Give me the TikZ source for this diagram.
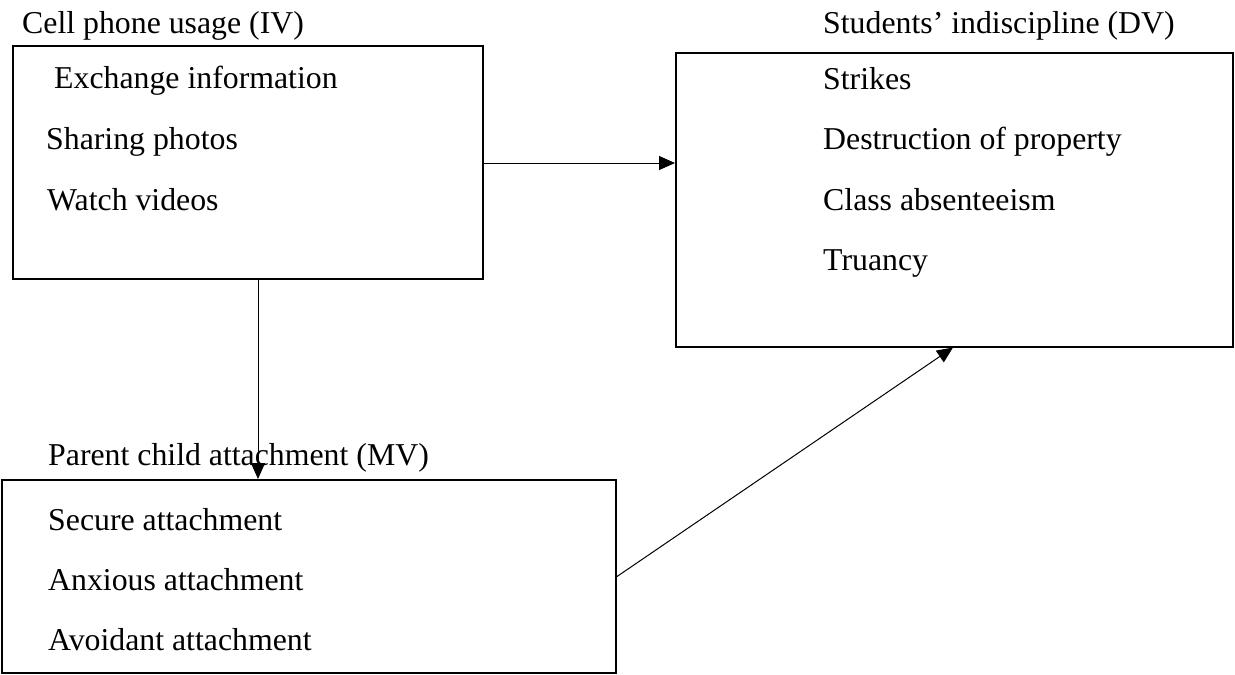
\documentclass[tikz,border=0pt]{standalone}
\usepackage{fontspec}
\setmainfont{Liberation Serif}
\usetikzlibrary{arrows.meta}
\tikzset{
  box/.style={draw=black, line width=2pt, rectangle, inner sep=0pt},
  txt/.style={anchor=base west, inner sep=0pt, font=\fontsize{31.8}{38}\selectfont},
  arr/.style={draw=black, line width=1pt, -{Triangle[length=16pt,width=14pt]}}
}
\begin{document}
\begin{tikzpicture}[x=1pt,y=-1pt]
\useasboundingbox (0,0) rectangle (1235,675);
% boxes
\node[box, minimum width=470pt, minimum height=233pt] (b1) at (248,162.5) {};
\node[box, minimum width=557pt, minimum height=294pt] (b2) at (954.5,199.5) {};
\node[box, minimum width=614pt, minimum height=193pt] (b3) at (309,576.5) {};
% titles
\node[txt] (t1) at (22,33) {Cell phone usage (IV)};
\node[txt] (t2) at (823,33) {Students’ indiscipline (DV)};
\node[txt] (t3) at (48,465) {Parent child attachment (MV)};
% box 1 items
\node[txt] (a1) at (54,88) {Exchange information};
\node[txt] (a2) at (46,149) {Sharing photos};
\node[txt] (a3) at (47,210) {Watch videos};
% box 2 items
\node[txt] (d1) at (823,89) {Strikes};
\node[txt] (d2) at (823,149) {Destruction of property};
\node[txt] (d3) at (823,210) {Class absenteeism};
\node[txt] (d4) at (823,270) {Truancy};
% box 3 items
\node[txt] (m1) at (48,530) {Secure attachment};
\node[txt] (m2) at (48,590) {Anxious attachment};
\node[txt] (m3) at (48,650) {Avoidant attachment};
% connectors
\coordinate (h1) at ([yshift=-0.5pt]b1.east);
\draw[arr] (h1) -- (h1 -| b2.west);
\coordinate (v1) at ([xshift=10pt]b1.south);
\draw[arr] (v1) -- (v1 |- b3.north);
\draw[arr] (b3.east) -- ([xshift=-1.5pt]b2.south);
\end{tikzpicture}
\end{document}
